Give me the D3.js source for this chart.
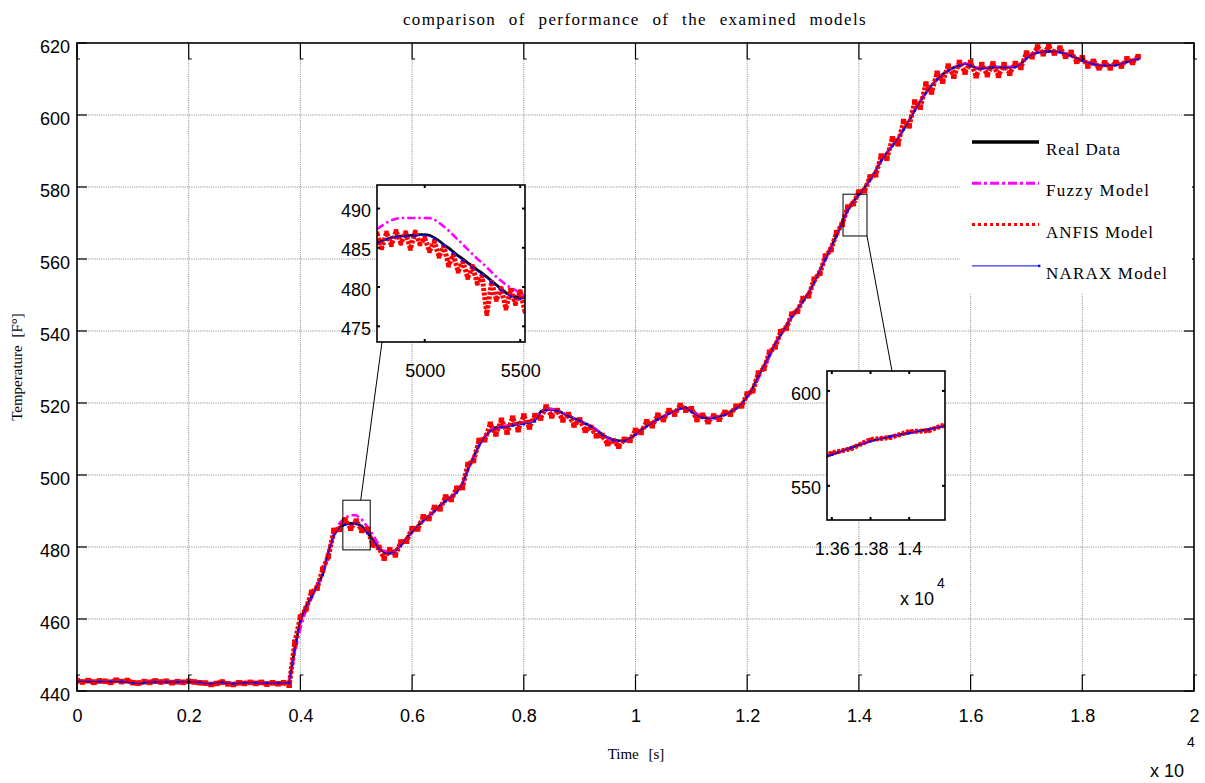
<!DOCTYPE html>
<html>
<head>
<meta charset="utf-8">
<script src="https://cdn.jsdelivr.net/npm/d3@7"></script>
<style>
  body { margin: 0; background: #fff; }
</style>
</head>
<body>
<div id="vis"></div>
<script>
// ---- data ----
// main series, sampled every 100 s from 0 to 19000 s
const sampleStep = 100;

const realData = [
  442.8, 442.7, 442.6, 442.6, 442.6, 442.6, 442.6, 442.6, 442.6, 442.5,
  442.1, 441.9, 442.3, 442.5, 442.5, 442.5, 442.5, 442.5, 442.5, 442.5,
  442.5, 442.5, 442.4, 442.1, 442.0, 442.3, 442.4, 442.1, 442.0, 442.2,
  442.3, 442.3, 442.3, 442.2, 442.2, 442.2, 442.2, 442.2, 442.3,
  452.0, 459.6, 463.5, 466.2, 469.3, 472.4, 478.6, 483.4, 485.5, 486.3,
  486.6, 486.6, 485.8, 484.0, 482.0, 479.8, 478.6, 478.4, 479.1, 480.5,
  482.5, 484.2, 485.9, 487.3, 488.6, 490.0, 491.5, 492.8, 494.0, 495.2,
  497.6, 501.6, 505.0, 508.3, 510.6, 512.4, 513.2, 513.4, 513.7, 514.1,
  514.5, 514.7, 515.0, 515.4, 517.6, 518.4, 518.3, 518.0, 517.2, 516.4,
  515.7, 515.2, 514.3, 513.6, 512.6, 511.3, 510.4, 509.8, 509.5, 509.6,
  510.2, 511.3, 512.6, 513.6, 514.6, 515.5, 516.3, 517.1, 517.8, 518.5,
  518.8, 517.7, 516.6, 516.0, 515.8, 515.9, 516.3, 516.8, 517.6, 518.5,
  519.8, 521.8, 524.2, 527.5, 530.4, 533.3, 536.5, 539.0, 541.5, 544.0,
  546.2, 548.3, 550.6, 553.6, 556.8, 560.0, 563.3, 566.5, 570.2, 573.6,
  576.0, 577.9, 579.8, 582.0, 584.5, 587.4, 589.5, 591.5, 593.5, 596.0,
  598.5, 601.3, 603.9, 606.2, 608.2, 609.9, 611.3, 612.4, 613.2, 613.8,
  614.3, 613.8, 613.1, 613.0, 613.1, 613.3, 613.3, 613.3, 613.3, 613.4,
  614.2, 615.8, 616.9, 617.4, 617.6, 617.7, 617.7, 617.5, 617.1, 616.5,
  615.8, 615.2, 614.6, 614.2, 613.9, 613.8, 613.8, 613.9, 614.3, 614.8,
  615.3, 615.6
];

const fuzzyData = [
  442.8, 442.7, 442.6, 442.6, 442.6, 442.6, 442.6, 442.6, 442.6, 442.5,
  442.2, 442.0, 442.3, 442.5, 442.5, 442.5, 442.5, 442.5, 442.5, 442.5,
  442.5, 442.5, 442.3, 441.9, 441.8, 441.9, 442.3, 442.1, 442.0, 442.2,
  442.3, 442.3, 442.3, 442.2, 442.2, 442.2, 442.2, 442.2, 442.3,
  450.5, 457.5, 462.5, 465.8, 469.0, 472.4, 478.0, 483.4, 486.6, 488.2,
  488.8, 488.8, 487.6, 485.6, 483.4, 480.7, 479.0, 478.4, 479.0, 480.5,
  482.5, 484.2, 485.9, 487.3, 488.6, 490.0, 491.5, 492.8, 494.0, 495.2,
  497.4, 501.3, 504.8, 508.2, 510.6, 512.4, 513.2, 513.4, 513.7, 514.1,
  514.5, 514.7, 515.0, 515.4, 517.4, 518.3, 518.3, 518.0, 517.2, 516.4,
  515.7, 515.2, 514.3, 513.6, 512.6, 511.2, 510.2, 509.6, 509.2, 509.3,
  510.0, 511.0, 512.4, 513.5, 514.6, 515.5, 516.3, 517.1, 517.8, 518.5,
  519.0, 518.2, 517.0, 516.1, 515.8, 515.9, 516.3, 516.8, 517.6, 518.5,
  519.7, 521.5, 523.6, 526.8, 529.9, 533.0, 536.4, 539.0, 541.5, 544.0,
  546.2, 548.3, 550.6, 553.6, 556.8, 560.0, 563.3, 566.5, 570.2, 573.6,
  576.0, 577.9, 579.8, 582.0, 584.5, 587.4, 589.5, 591.5, 593.5, 596.0,
  598.5, 601.3, 603.9, 606.2, 608.2, 609.9, 611.3, 612.4, 613.2, 613.8,
  614.3, 613.8, 613.1, 613.0, 613.1, 613.3, 613.3, 613.3, 613.3, 613.4,
  614.4, 616.1, 617.2, 617.5, 617.6, 617.7, 617.7, 617.5, 617.1, 616.5,
  615.8, 615.2, 614.6, 614.2, 613.9, 613.8, 613.8, 613.9, 614.3, 614.8,
  615.3, 615.6
];

const anfisData = [
  442.9, 442.5, 442.9, 442.4, 442.8, 442.7, 442.4, 443.0, 442.6, 442.9,
  442.3, 442.2, 442.6, 442.4, 442.8, 442.5, 442.7, 442.3, 442.6, 442.4,
  442.7, 442.5, 442.3, 442.2, 441.8, 442.1, 442.5, 442.0, 441.8, 442.3,
  442.1, 442.4, 442.1, 442.4, 441.9, 442.3, 442.0, 442.3, 441.6,
  453.5, 460.5, 462.8, 467.4, 468.6, 473.8, 477.4, 484.6, 484.9, 487.5,
  485.2, 487.2, 484.6, 484.9, 480.6, 479.9, 476.9, 479.2, 477.8, 481.4,
  481.6, 485.1, 485.0, 488.4, 487.9, 491.0, 490.6, 493.9, 493.2, 496.3,
  496.5, 502.9, 504.0, 509.6, 509.8, 514.1, 511.4, 515.2, 511.9, 515.8,
  512.6, 516.4, 513.3, 516.5, 515.8, 518.9, 516.4, 517.9, 515.3, 516.8,
  513.9, 515.3, 512.4, 513.2, 510.9, 511.0, 508.7, 509.5, 508.0, 509.9,
  509.6, 512.4, 511.8, 514.8, 513.7, 516.6, 515.4, 517.9, 516.9, 519.3,
  518.0, 518.4, 515.4, 516.6, 514.8, 516.4, 515.5, 517.4, 516.9, 519.1,
  519.2, 522.5, 523.4, 528.3, 529.6, 534.1, 535.6, 539.8, 540.8, 544.7,
  545.5, 549.0, 549.8, 554.4, 556.0, 560.8, 562.6, 567.3, 569.6, 574.4,
  575.4, 578.6, 579.0, 582.8, 583.4, 588.6, 588.0, 593.4, 592.0, 598.2,
  597.0, 603.6, 602.2, 608.6, 606.4, 611.6, 609.4, 613.6, 610.8, 614.6,
  611.9, 614.6, 610.9, 614.0, 611.2, 614.2, 611.0, 614.0, 611.6, 614.3,
  613.2, 617.2, 616.2, 618.9, 617.0, 619.0, 617.2, 618.6, 616.3, 617.4,
  614.9, 615.9, 613.6, 614.9, 613.1, 614.5, 613.1, 614.6, 613.6, 615.6,
  614.6, 616.2
];

const naraxData = [
  442.7, 442.7, 442.6, 442.6, 442.6, 442.6, 442.6, 442.6, 442.6, 442.5,
  442.2, 442.0, 442.3, 442.5, 442.5, 442.5, 442.5, 442.5, 442.5, 442.5,
  442.5, 442.5, 442.4, 442.1, 442.0, 442.3, 442.4, 442.1, 442.0, 442.2,
  442.3, 442.3, 442.3, 442.2, 442.2, 442.2, 442.2, 442.2, 442.3,
  451.6, 459.3, 463.3, 466.1, 469.2, 472.3, 478.4, 483.2, 485.4, 486.2,
  486.3, 486.4, 485.7, 483.9, 481.9, 479.6, 478.3, 478.2, 478.6, 480.3,
  482.4, 484.1, 485.8, 487.2, 488.5, 489.9, 491.4, 492.7, 493.9, 495.1,
  497.4, 501.4, 504.9, 508.2, 510.5, 512.2, 513.0, 513.2, 513.4, 513.7,
  513.9, 514.1, 514.4, 514.9, 517.3, 518.0, 518.0, 517.8, 517.1, 516.3,
  515.6, 515.1, 514.2, 513.5, 512.5, 511.2, 510.3, 509.7, 509.4, 509.5,
  510.1, 511.2, 512.5, 513.5, 514.5, 515.4, 516.2, 517.0, 517.7, 518.4,
  518.7, 517.6, 516.5, 515.9, 515.7, 515.8, 516.2, 516.7, 517.5, 518.4,
  519.7, 521.7, 524.1, 527.4, 530.3, 533.2, 536.4, 538.9, 541.4, 543.9,
  546.1, 548.2, 550.5, 553.5, 556.7, 559.9, 563.2, 566.4, 570.1, 573.5,
  575.9, 577.8, 579.7, 581.9, 584.4, 587.3, 589.4, 591.4, 593.4, 595.9,
  598.4, 601.2, 603.8, 606.1, 608.1, 609.8, 611.2, 612.3, 613.1, 613.7,
  614.2, 613.7, 613.0, 612.9, 613.0, 613.2, 613.2, 613.2, 613.2, 613.3,
  614.1, 615.7, 616.8, 617.3, 617.5, 617.6, 617.6, 617.4, 617.0, 616.4,
  615.7, 615.1, 614.5, 614.1, 613.8, 613.7, 613.7, 613.8, 614.2, 614.7,
  615.2, 615.5
];

// first zoom window, sampled every 25 s from 4750 s
const zoomAStart = 4750;
const zoomAStep = 25;
const realZoomA = [
  485.6, 485.9, 486.1, 486.3, 486.4, 486.5, 486.5, 486.6, 486.6, 486.7,
  486.7, 486.6, 486.3, 485.9, 485.4, 485.0, 484.5, 484.0, 483.6, 483.1,
  482.7, 482.2, 481.8, 481.3, 480.8, 480.3, 479.8, 479.3, 479.0, 478.8,
  478.7, 478.7
];
const fuzzyZoomA = [
  487.4, 487.8, 488.2, 488.5, 488.7, 488.8, 488.8, 488.8, 488.8, 488.8,
  488.8, 488.8, 488.6, 488.2, 487.7, 487.2, 486.6, 486.0, 485.4, 484.8,
  484.2, 483.6, 483.1, 482.5, 481.9, 481.3, 480.8, 480.3, 479.9, 479.6,
  479.2, 478.9
];
const anfisZoomA = [
  486.8, 485.0, 486.9, 485.4, 487.1, 485.6, 486.9, 484.9, 487.0, 485.5,
  486.2, 484.6, 485.8, 483.9, 485.2, 482.8, 484.1, 482.0, 483.2, 481.2,
  482.6, 480.5, 481.4, 476.6, 480.6, 478.4, 479.8, 477.3, 479.6, 477.9,
  479.4, 476.9
];
const naraxZoomA = [
  485.5, 485.9, 486.1, 486.3, 486.4, 486.4, 486.5, 486.5, 486.5, 486.6,
  486.6, 486.5, 486.2, 485.8, 485.3, 484.8, 484.3, 483.8, 483.4, 482.9,
  482.5, 482.0, 481.6, 481.1, 480.6, 480.1, 479.6, 479.1, 478.8, 478.6,
  478.5, 478.5
];

const seriesNames = ["Real Data", "Fuzzy Model", "ANFIS Model", "NARAX Model"];
const xTickValues = [0, 2000, 4000, 6000, 8000, 10000, 12000, 14000, 16000, 18000, 20000];
const yTickValues = [440, 460, 480, 500, 520, 540, 560, 580, 600, 620];
const zoomAXTicks = [5000, 5500];
const zoomAYTicks = [475, 480, 485, 490];
const zoomBXTicks = [13600, 13800, 14000];
const zoomBYTicks = [550, 600];

// ---- layout ----
const width = 1205, height = 783;
const plot = { left: 77, right: 1194, top: 43, bottom: 691 };
const boxA = { left: 377, right: 525, top: 185, bottom: 342, xDom: [4750, 5525], yDom: [473, 493] };
const boxB = { left: 827, right: 945, top: 371, bottom: 520, xDom: [13575, 14185], yDom: [532, 610.5] };
const markA = { x: [4760, 5250], y: [479.2, 493] };
const markB = { x: [13716, 14145], y: [566.4, 578] };

const styles = [
  { color: "#000000", width: 2.6, dash: null },
  { color: "#ff00ff", width: 2.6, dash: "8,3,2.5,3" },
  { color: "#ff0000", width: 5, dash: "3,1.5" },
  { color: "#0000ff", width: 1, dash: null }
];

const serif = "'Liberation Serif', 'Times New Roman', serif";
const sans = "'Liberation Sans', Arial, sans-serif";

const svg = d3.select("#vis")
  .append("svg")
  .attr("width", width)
  .attr("height", height)
  .style("font-family", sans);

const defs = svg.append("defs");

const x = d3.scaleLinear().domain([0, 20000]).range([plot.left, plot.right]);
const y = d3.scaleLinear().domain([440, 620]).range([plot.bottom, plot.top]);

// dotted grid
const grid = svg.append("g").attr("stroke", "#6a6a6a").attr("stroke-width", 0.8).attr("stroke-dasharray", "1,1.2");
grid.selectAll(".gx").data(xTickValues.slice(1, -1)).join("line")
  .attr("x1", d => x(d)).attr("x2", d => x(d))
  .attr("y1", plot.top).attr("y2", plot.bottom);
grid.selectAll(".gy").data(yTickValues.slice(1, -1)).join("line")
  .attr("x1", plot.left).attr("x2", plot.right)
  .attr("y1", d => y(d)).attr("y2", d => y(d));

// draws the four series into a group, clipped to a box
function drawSeries(g, xs, ys, times, seriesList, clipId, box, markerEvery, dotSize) {
  defs.append("clipPath").attr("id", clipId)
    .append("rect")
    .attr("x", box.left).attr("y", box.top)
    .attr("width", box.right - box.left).attr("height", box.bottom - box.top);
  const layer = g.append("g").attr("clip-path", "url(#" + clipId + ")");
  seriesList.forEach((vals, k) => {
    const line = d3.line().x((d, i) => xs(times[i])).y(d => ys(d));
    const st = styles[k];
    layer.append("path")
      .datum(vals)
      .attr("d", line)
      .attr("fill", "none")
      .attr("stroke", st.color)
      .attr("stroke-width", st.width)
      .attr("stroke-dasharray", st.dash)
      .attr("stroke-linejoin", "round");
    if (k === 2) {
      // ANFIS samples show as square red dots
      layer.append("g").selectAll("rect").data(vals).join("rect")
        .attr("x", (d, i) => xs(times[i]) - dotSize / 2)
        .attr("y", d => ys(d) - dotSize / 2)
        .attr("width", dotSize).attr("height", dotSize)
        .attr("fill", "#ff0000");
    }
  });
  // NARAX point markers
  const nar = seriesList[3];
  layer.append("g").selectAll("rect").data(nar.filter((d, i) => i % markerEvery === 0)).join("rect")
    .attr("x", (d, i) => xs(times[i * markerEvery]) - 1.2)
    .attr("y", d => ys(d) - 1.2)
    .attr("width", 2.4).attr("height", 2.4)
    .attr("fill", "#0000ff");
}

const mainTime = realData.map((d, i) => i * sampleStep);
drawSeries(svg, x, y, mainTime, [realData, fuzzyData, anfisData, naraxData], "clipMain", plot, 2, 5.5);

// axes frame
svg.append("rect")
  .attr("x", plot.left).attr("y", plot.top)
  .attr("width", plot.right - plot.left).attr("height", plot.bottom - plot.top)
  .attr("fill", "none").attr("stroke", "#000").attr("stroke-width", 1.6);

// tick marks (inside, both sides)
const tk = svg.append("g").attr("stroke", "#000").attr("stroke-width", 1.2).attr("fill", "none");
tk.selectAll(".tb").data(xTickValues).join("path")
  .attr("d", d => `M${x(d)},${plot.bottom}V${plot.bottom - 16}h3`);
tk.selectAll(".tt").data(xTickValues).join("path")
  .attr("d", d => `M${x(d)},${plot.top}V${plot.top + 16}h3`);
tk.selectAll(".tl").data(yTickValues).join("line")
  .attr("x1", plot.left).attr("x2", plot.left + 10)
  .attr("y1", d => y(d)).attr("y2", d => y(d));
tk.selectAll(".tr").data(yTickValues).join("line")
  .attr("x1", plot.right).attr("x2", plot.right - 10)
  .attr("y1", d => y(d)).attr("y2", d => y(d));

// tick labels
const xAxis = svg.append("g")
  .attr("transform", `translate(0,${plot.bottom})`)
  .call(d3.axisBottom(x).tickValues(xTickValues).tickSize(0).tickPadding(18)
    .tickFormat(d => String(d / 10000)));
const yAxis = svg.append("g")
  .attr("transform", `translate(${plot.left},0)`)
  .call(d3.axisLeft(y).tickValues(yTickValues).tickSize(0).tickPadding(7));
[xAxis, yAxis].forEach(a => {
  a.select(".domain").remove();
  a.selectAll("text").attr("font-family", sans).attr("font-size", 18).attr("fill", "#000");
});
yAxis.selectAll("text").attr("dy", "0.5em");

// x10^4 multiplier
svg.append("text").attr("x", 1150).attr("y", 777).attr("font-size", 18).text("x 10");
svg.append("text").attr("x", 1187).attr("y", 747).attr("font-size", 14).text("4");

// titles
svg.append("text")
  .attr("x", 635).attr("y", 25)
  .attr("text-anchor", "middle")
  .attr("font-family", serif).attr("font-size", 17)
  .attr("letter-spacing", 1.4).attr("word-spacing", 7)
  .text("comparison of performance of the examined models");
svg.append("text")
  .attr("x", 636).attr("y", 759)
  .attr("text-anchor", "middle")
  .attr("font-family", serif).attr("font-size", 15)
  .attr("word-spacing", 6)
  .text("Time [s]");
svg.append("text")
  .attr("transform", "translate(22,367) rotate(-90)")
  .attr("text-anchor", "middle")
  .attr("font-family", serif).attr("font-size", 15)
  .attr("word-spacing", 4)
  .text("Temperature [F°]");

// marker rectangles and connectors
const ann = svg.append("g").attr("fill", "none").attr("stroke", "#000").attr("stroke-width", 1);
[markA, markB].forEach(m => {
  ann.append("rect")
    .attr("x", x(m.x[0])).attr("y", y(m.y[1]))
    .attr("width", x(m.x[1]) - x(m.x[0]))
    .attr("height", y(m.y[0]) - y(m.y[1]));
});
ann.append("line")
  .attr("x1", x(5080)).attr("y1", y(markA.y[1]))
  .attr("x2", boxA.left + 5).attr("y2", boxA.bottom);
ann.append("line")
  .attr("x1", x(markB.x[1])).attr("y1", y(markB.y[0]))
  .attr("x2", boxB.left + 65).attr("y2", boxB.top);

// insets
function drawInset(box, times, seriesList, xTicks, yTicks, xFmt, clipId, markerEvery, dotSize) {
  const g = svg.append("g");
  const xs = d3.scaleLinear().domain(box.xDom).range([box.left, box.right]);
  const ys = d3.scaleLinear().domain(box.yDom).range([box.bottom, box.top]);
  g.append("rect")
    .attr("x", box.left).attr("y", box.top)
    .attr("width", box.right - box.left).attr("height", box.bottom - box.top)
    .attr("fill", "#fff");
  drawSeries(g, xs, ys, times, seriesList, clipId, box, markerEvery, dotSize);
  g.append("rect")
    .attr("x", box.left).attr("y", box.top)
    .attr("width", box.right - box.left).attr("height", box.bottom - box.top)
    .attr("fill", "none").attr("stroke", "#000").attr("stroke-width", 1.6);
  const t = g.append("g").attr("stroke", "#000").attr("stroke-width", 2);
  t.selectAll(".a").data(xTicks).join("line")
    .attr("x1", d => xs(d)).attr("x2", d => xs(d))
    .attr("y1", box.bottom).attr("y2", box.bottom - 3);
  t.selectAll(".b").data(xTicks).join("line")
    .attr("x1", d => xs(d)).attr("x2", d => xs(d))
    .attr("y1", box.top).attr("y2", box.top + 3);
  t.selectAll(".c").data(yTicks).join("line")
    .attr("x1", box.left).attr("x2", box.left + 3)
    .attr("y1", d => ys(d)).attr("y2", d => ys(d));
  t.selectAll(".d").data(yTicks).join("line")
    .attr("x1", box.right).attr("x2", box.right - 3)
    .attr("y1", d => ys(d)).attr("y2", d => ys(d));
  const ax = g.append("g").attr("transform", `translate(0,${box.bottom})`)
    .call(d3.axisBottom(xs).tickValues(xTicks).tickSize(0).tickPadding(22).tickFormat(xFmt));
  const ay = g.append("g").attr("transform", `translate(${box.left},0)`)
    .call(d3.axisLeft(ys).tickValues(yTicks).tickSize(0).tickPadding(6));
  [ax, ay].forEach(a => {
    a.select(".domain").remove();
    a.selectAll("text").attr("font-family", sans).attr("font-size", 18).attr("fill", "#000");
  });
  ay.selectAll("text").attr("dy", "0.45em");
  return g;
}

const zoomATime = realZoomA.map((d, i) => zoomAStart + i * zoomAStep);
drawInset(boxA, zoomATime, [realZoomA, fuzzyZoomA, anfisZoomA, naraxZoomA],
  zoomAXTicks, zoomAYTicks, d => String(d), "clipA", 2, 4.5);

const gB = drawInset(boxB, mainTime, [realData, fuzzyData, anfisData, naraxData],
  zoomBXTicks, zoomBYTicks, d => String(d / 10000), "clipB", 1, 3.5);
gB.append("text").attr("x", 937).attr("y", 588).attr("font-size", 14).text("4");
gB.append("text").attr("x", 900).attr("y", 605).attr("font-size", 18).text("x 10");

// legend
const legend = svg.append("g");
legend.append("rect")
  .attr("x", 960).attr("y", 116).attr("width", 232).attr("height", 177)
  .attr("fill", "#fff");
const rows = legend.selectAll(".row").data(seriesNames).join("g")
  .attr("transform", (d, i) => `translate(0,${142 + i * 41.3})`);
rows.append("line")
  .attr("x1", 972).attr("x2", 1039)
  .attr("stroke", (d, i) => styles[i].color)
  .attr("stroke-width", (d, i) => i === 0 ? 3.4 : (i === 3 ? 1 : 3))
  .attr("stroke-dasharray", (d, i) => i === 1 ? "9,3,3,3" : (i === 2 ? "3,3" : null));
rows.filter((d, i) => i === 3).append("rect")
  .attr("x", 1038).attr("y", -1.2).attr("width", 2.4).attr("height", 2.4).attr("fill", "#0000ff");
const legendWidths = [74, 103, 107, 121];
rows.append("text")
  .attr("x", 1046).attr("y", 13)
  .attr("font-family", serif).attr("font-size", 17)
  .attr("textLength", (d, i) => legendWidths[i]).attr("lengthAdjust", "spacing")
  .text(d => d);
</script>
</body>
</html>
